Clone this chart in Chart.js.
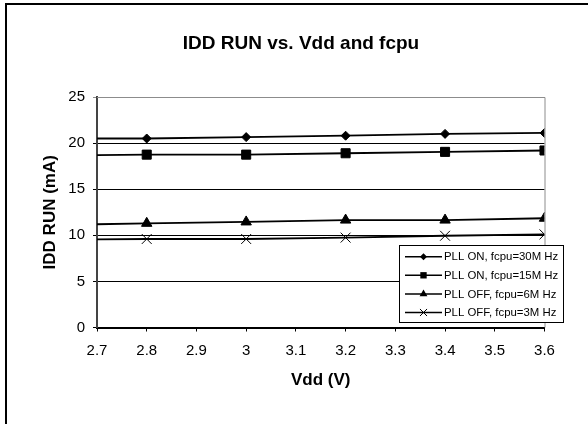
<!DOCTYPE html>
<html>
<head>
<meta charset="utf-8">
<script src="https://cdn.jsdelivr.net/npm/chart.js@4/dist/chart.umd.min.js"></script>
<style>
  html, body { margin: 0; padding: 0; background: #fff; }
  #wrap { width: 588px; height: 424px; position: relative; }
</style>
</head>
<body>
<div id="wrap"><canvas id="graph1" width="588" height="424"></canvas></div>
<script>
// values
const vdd = [2.7, 2.8, 3.0, 3.2, 3.4, 3.6];
const pllOn30 = [20.5, 20.5, 20.65, 20.8, 21.0, 21.1];
const pllOn15 = [18.7, 18.75, 18.75, 18.9, 19.05, 19.2];
const pllOff6 = [11.2, 11.3, 11.45, 11.65, 11.65, 11.85];
const pllOff3 = [9.55, 9.6, 9.6, 9.75, 9.95, 10.1];
const labels = ['PLL ON, fcpu=30M Hz', 'PLL ON, fcpu=15M Hz', 'PLL OFF, fcpu=6M Hz', 'PLL OFF, fcpu=3M Hz'];
const xTicks = [2.7, 2.8, 2.9, 3.0, 3.1, 3.2, 3.3, 3.4, 3.5, 3.6];
const xTickLabels = ['2.7', '2.8', '2.9', '3', '3.1', '3.2', '3.3', '3.4', '3.5', '3.6'];
const chartTitle = 'IDD RUN vs. Vdd and fcpu';

const font = "'Liberation Sans', Arial, sans-serif";
const styles = ['rectRot', 'rect', 'triangle', 'crossRot'];
const radii = [4.5, 6.4, 6, 7];
const legendRadii = [3.5, 4.5, 4.5, 5];

function toPoints(ys) {
  return vdd.map((x, i) => ({x: x, y: ys[i]}));
}

const series = [pllOn30, pllOn15, pllOff6, pllOff3];
const datasets = series.map((ys, i) => ({
  label: labels[i],
  data: toPoints(ys),
  borderColor: '#000',
  backgroundColor: '#000',
  borderWidth: 1.8,
  pointStyle: styles[i],
  // no marker on the first point (2.7)
  pointRadius: vdd.map((v, k) => k === 0 ? 0 : radii[i]),
  pointBorderWidth: 1,
  pointBorderColor: '#000',
  pointBackgroundColor: '#000',
  tension: 0
}));

function marker(ctx, style, x, y, r) {
  ctx.beginPath();
  if (style === 'rectRot') {
    ctx.moveTo(x - r, y); ctx.lineTo(x, y - r); ctx.lineTo(x + r, y); ctx.lineTo(x, y + r);
    ctx.closePath(); ctx.fill();
  } else if (style === 'rect') {
    const s = r * Math.SQRT1_2;
    ctx.rect(x - s, y - s, 2 * s, 2 * s); ctx.fill();
  } else if (style === 'triangle') {
    ctx.moveTo(x, y - r);
    ctx.lineTo(x + r * Math.sin(Math.PI / 3), y + r / 2);
    ctx.lineTo(x - r * Math.sin(Math.PI / 3), y + r / 2);
    ctx.closePath(); ctx.fill();
  } else {
    const s = r * Math.SQRT1_2;
    ctx.moveTo(x - s, y - s); ctx.lineTo(x + s, y + s);
    ctx.moveTo(x + s, y - s); ctx.lineTo(x - s, y + s);
    ctx.lineWidth = 1; ctx.stroke();
  }
}

const extras = {
  id: 'extras',
  beforeDraw(chart) {
    const ctx = chart.ctx;
    ctx.save();
    ctx.fillStyle = '#fff';
    ctx.fillRect(0, 0, chart.width, chart.height);
    // outer frame (left and top only visible)
    ctx.fillStyle = '#000';
    ctx.fillRect(5, 3, 2, chart.height - 3);
    ctx.fillRect(5, 3, chart.width - 5, 2);
    // title
    ctx.font = 'bold 19px ' + font;
    ctx.textAlign = 'center';
    ctx.textBaseline = 'middle';
    ctx.fillText(chartTitle, 301, 43.5);
    ctx.restore();
  },
  afterDatasetsDraw(chart) {
    const ctx = chart.ctx;
    const a = chart.chartArea;
    ctx.save();
    // grey plot border top and right
    ctx.strokeStyle = '#8c8c8c';
    ctx.lineWidth = 1;
    ctx.beginPath();
    ctx.moveTo(a.left, a.top + 0.5);
    ctx.lineTo(a.right + 0.5, a.top + 0.5);
    ctx.lineTo(a.right + 0.5, a.bottom);
    ctx.stroke();
    // legend box
    const bx = 399.5, by = 245.5, bw = 164, bh = 77;
    ctx.fillStyle = '#fff';
    ctx.fillRect(bx, by, bw, bh);
    ctx.strokeStyle = '#000';
    ctx.strokeRect(bx, by, bw, bh);
    ctx.font = '11.4px ' + font;
    ctx.textAlign = 'left';
    ctx.textBaseline = 'middle';
    chart.data.datasets.forEach((ds, i) => {
      const y = 256.7 + i * 18.6;
      ctx.strokeStyle = '#000';
      ctx.fillStyle = '#000';
      ctx.lineWidth = 1.5;
      ctx.beginPath();
      ctx.moveTo(405, y); ctx.lineTo(442, y);
      ctx.stroke();
      marker(ctx, ds.pointStyle, 423.5, y, legendRadii[i]);
      ctx.fillStyle = '#000';
      ctx.fillText(ds.label, 444, y + 0.5);
    });
    ctx.restore();
  }
};

new Chart(document.querySelector('#graph1'), {
  type: 'line',
  data: { datasets: datasets },
  options: {
    responsive: false,
    animation: false,
    events: [],
    layout: { padding: { top: 97, right: 43.5, left: 0, bottom: 0 } },
    plugins: {
      legend: { display: false },
      title: { display: false },
      tooltip: { enabled: false }
    },
    scales: {
      x: {
        type: 'linear',
        min: 2.7,
        max: 3.6,
        afterBuildTicks: (scale) => { scale.ticks = xTicks.map(v => ({value: v})); },
        afterFit: (scale) => { scale.height = 96.5; },
        ticks: {
          autoSkip: false,
          maxRotation: 0,
          color: '#000',
          padding: 10,
          font: { family: font, size: 15 },
          callback: (value, index) => xTickLabels[index]
        },
        grid: { drawOnChartArea: false, drawTicks: true, tickLength: 4, color: '#000' },
        border: { display: true, color: '#000', width: 2 },
        title: {
          display: true,
          text: 'Vdd (V)',
          color: '#000',
          font: { family: font, size: 17, weight: 'bold' },
          padding: { top: 0, bottom: 33.8 }
        }
      },
      y: {
        min: 0,
        max: 25,
        afterFit: (scale) => { scale.width = 97; },
        ticks: {
          stepSize: 5,
          color: '#000',
          padding: 8,
          font: { family: font, size: 15 }
        },
        grid: {
          color: (c) => c.tick && c.tick.value === 25 ? '#8c8c8c' : '#000',
          lineWidth: 1,
          tickLength: 4,
          drawTicks: true
        },
        border: { display: true, color: '#444', width: 2 },
        title: {
          display: true,
          text: 'IDD RUN (mA)',
          color: '#000',
          font: { family: font, size: 17, weight: 'bold' },
          padding: { top: 40.4, bottom: 0 }
        }
      }
    }
  },
  plugins: [extras]
});
</script>
</body>
</html>
